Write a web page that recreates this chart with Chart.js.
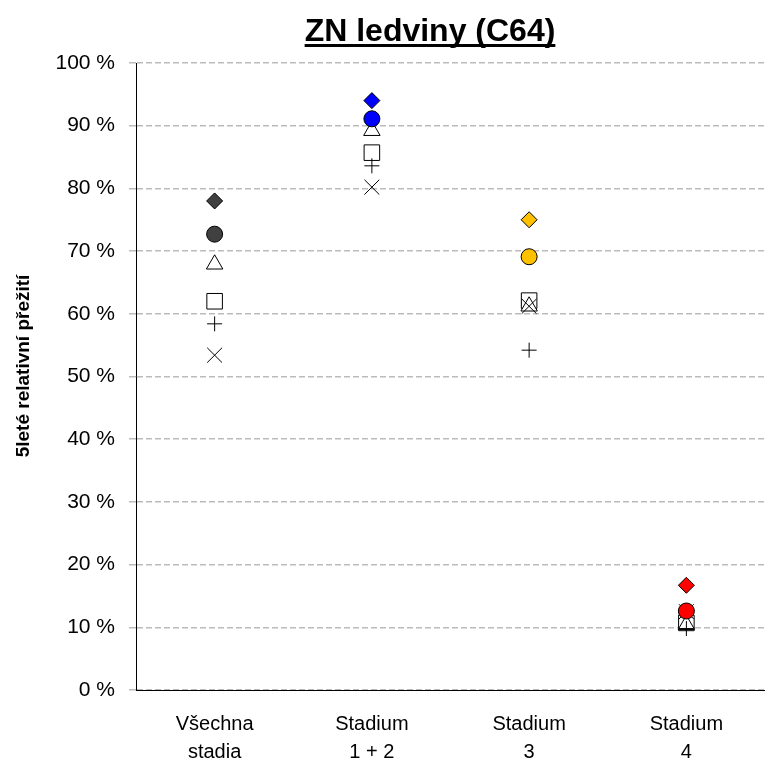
<!DOCTYPE html>
<html>
<head>
<meta charset="utf-8">
<script src="https://cdn.jsdelivr.net/npm/chart.js@4"></script>
<style>
  html, body { margin: 0; padding: 0; background: #fff; }
  #wrap { width: 765px; height: 765px; }
</style>
</head>
<body>
<div id="wrap"><canvas id="ZnLedviny" width="765" height="765"></canvas></div>
<script>
const categories = [['Všechna', 'stadia'], ['Stadium', '1 + 2'], ['Stadium', '3'], ['Stadium', '4']]
const stageColors = ['#404040', '#0000FF', '#FFC000', '#FF0000']

// 5leté relativní přežití (%), one array per marker
const diamondValues = [78.0, 94.0, 75.0, 16.7]
const circleValues = [72.7, 91.1, 69.1, 12.6]
const triangleValues = [67.9, 89.2, 61.2, 10.4]
const squareValues = [62.0, 85.7, 62.1, 10.7]
const plusValues = [58.4, 83.6, 54.2, 9.8]
const crossValues = [53.4, 80.2, 61.2, 12.5]

const yTicks = [0, 10, 20, 30, 40, 50, 60, 70, 80, 90, 100]

const FONT = "'Liberation Sans', Arial, sans-serif"

function markers(label, data, style, radius, fill, order) {
  return {
    label: label,
    data: data,
    showLine: false,
    pointStyle: style,
    pointRadius: radius,
    pointBackgroundColor: fill,
    pointBorderColor: '#000',
    pointBorderWidth: 1,
    order: order
  }
}

// chart title is underlined, y title sits a bit above the plot centre
const titlesPlugin = {
  id: 'titles',
  afterDraw(chart) {
    const c = chart.ctx
    const text = 'ZN ledviny (C64)'
    c.save()
    c.font = 'bold 32px ' + FONT
    c.fillStyle = '#000'
    c.textAlign = 'center'
    c.textBaseline = 'alphabetic'
    c.fillText(text, 430, 41)
    const w = c.measureText(text).width
    c.fillRect(430 - w / 2, 44, w, 3)

    c.translate(24, 366)
    c.rotate(-Math.PI / 2)
    c.font = 'bold 19px ' + FONT
    c.textBaseline = 'middle'
    c.fillText('5leté relativní přežití', 0, 0)
    c.restore()
  }
}

function renderChart() {
  const ctx = document.querySelector('#ZnLedviny').getContext('2d')
  new Chart(ctx, {
    type: 'line',
    data: {
      labels: categories,
      datasets: [
        markers('diamond', diamondValues, 'rectRot', 8, stageColors, 1),
        markers('circle', circleValues, 'circle', 8, stageColors, 2),
        markers('plus', plusValues, 'cross', 7.5, '#fff', 3),
        markers('cross', crossValues, 'crossRot', 10.5, '#fff', 4),
        markers('triangle', triangleValues, 'triangle', 9.5, '#fff', 5),
        markers('square', squareValues, 'rect', 11, '#fff', 6)
      ]
    },
    plugins: [titlesPlugin],
    options: {
      responsive: false,
      animation: false,
      events: [],
      layout: { autoPadding: false, padding: { top: 63, left: 0, right: 0, bottom: 0 } },
      plugins: {
        legend: { display: false },
        title: { display: false },
        tooltip: { enabled: false }
      },
      scales: {
        x: {
          type: 'category',
          offset: true,
          grid: { display: false },
          border: { display: true, color: '#000', width: 1 },
          ticks: {
            color: '#000',
            font: { family: FONT, size: 20, lineHeight: 1.4 },
            maxRotation: 0,
            padding: 12
          },
          afterFit(scale) { scale.height = 75 }
        },
        y: {
          min: 0,
          max: 100,
          afterBuildTicks(scale) { scale.ticks = yTicks.map(v => ({ value: v })) },
          grid: {
            color: '#BBBBBB',
            lineWidth: 1.5,
            drawTicks: true,
            tickLength: 7,
            tickColor: '#BBBBBB'
          },
          border: { display: true, color: '#000', width: 1, dash: [6, 3] },
          ticks: {
            color: '#000',
            font: { family: FONT, size: 21 },
            padding: 14,
            callback: v => v + ' %'
          },
          afterFit(scale) { scale.width = 136 }
        }
      }
    }
  })
}

renderChart()
</script>
</body>
</html>
